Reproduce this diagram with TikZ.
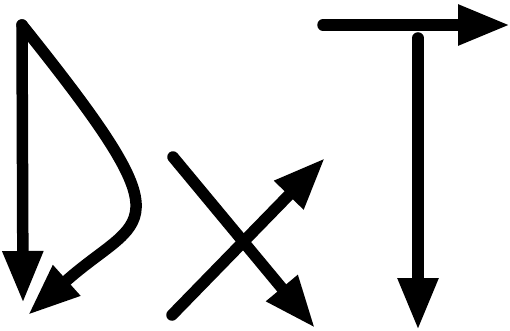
\documentclass[tikz,border=0pt]{standalone}
\usetikzlibrary{arrows.meta}
\begin{document}
\begin{tikzpicture}[x=1pt,y=-1pt,
  stroke/.style={line width=11.5pt,line cap=round,line join=round,
    -{Triangle[length=52pt,width=38pt]}}]
\useasboundingbox (0,0) rectangle (510,331);
% left figure
\coordinate (top) at (22,25);
\coordinate (downtip) at (23,303);
\coordinate (curvetip) at (28,315);
\draw[stroke] (top) -- (downtip);
\draw[stroke] (top) .. controls (192,237) and (142,213) .. (curvetip);
% cross
\coordinate (xa) at (173,157);
\coordinate (xatip) at (315,328);
\coordinate (xb) at (172,315);
\coordinate (xbtip) at (325,158);
\draw[stroke] (xa) -- (xatip);
\draw[stroke] (xb) -- (xbtip);
% T
\coordinate (ha) at (323,25);
\coordinate (hatip) at (510,25);
\coordinate (va) at (418,38);
\coordinate (vatip) at (418,330);
\draw[stroke] (ha) -- (hatip);
\draw[stroke] (va) -- (vatip);
\end{tikzpicture}
\end{document}
